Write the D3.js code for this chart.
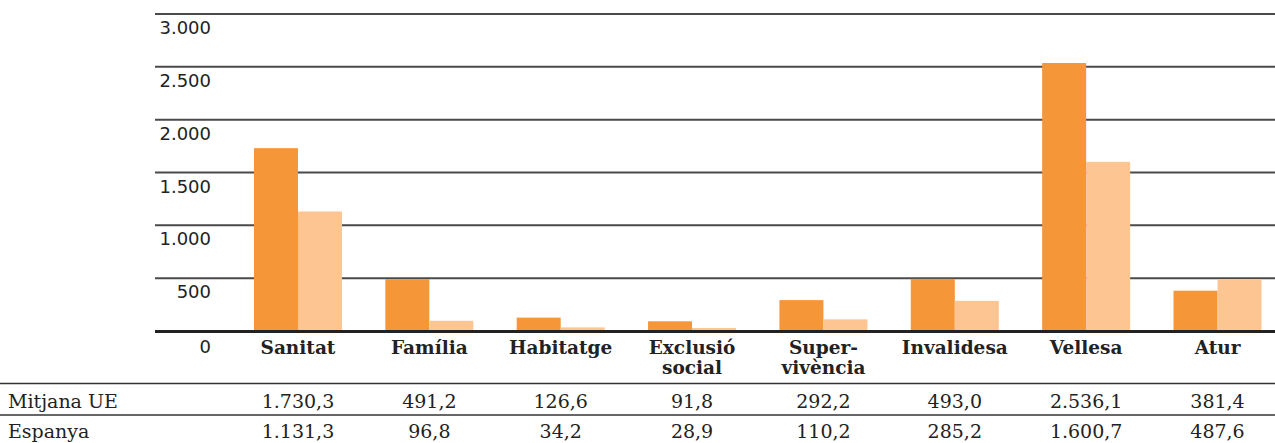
<!DOCTYPE html>
<html><head><meta charset="utf-8">
<script src="https://cdn.jsdelivr.net/npm/d3@7"></script>
<style>
html,body{margin:0;padding:0;background:#fff;}
svg{display:block;}
</style></head>
<body>
<svg id="chart" width="1275" height="443"></svg>
<script>
const categories = ["Sanitat","Família","Habitatge","Exclusió social","Super-vivència","Invalidesa","Vellesa","Atur"];
const categoryLines = [["Sanitat"],["Família"],["Habitatge"],["Exclusió","social"],["Super-","vivència"],["Invalidesa"],["Vellesa"],["Atur"]];
const seriesNames = ["Mitjana UE","Espanya"];
const mitjanaUE = [1730.3, 491.2, 126.6, 91.8, 292.2, 493.0, 2536.1, 381.4];
const espanya = [1131.3, 96.8, 34.2, 28.9, 110.2, 285.2, 1600.7, 487.6];
const yTicks = [0, 500, 1000, 1500, 2000, 2500, 3000];

const colors = ["#F59639", "#FDC592"];
const locale = d3.formatLocale({decimal: ",", thousands: ".", grouping: [3], currency: ["", "€"]});
const fmtVal = locale.format(",.1f");
const fmtTick = locale.format(",d");

const svg = d3.select("#chart");
const W = 1275;
const y = d3.scaleLinear().domain([0, 3000]).range([331, 14]);
const x = d3.scaleBand().domain(categories).range([232.3, 1283.2]).paddingInner(0.33).paddingOuter(0.165);
const xs = d3.scaleBand().domain(seriesNames).range([0, x.bandwidth()]);

const axisFont = "'DejaVu Sans', Verdana, sans-serif";
const serifFont = "'DejaVu Serif', serif";

// gridlines
svg.append("g").selectAll("line").data(yTicks.filter(d => d > 0)).join("line")
  .attr("x1", 155).attr("x2", W)
  .attr("y1", d => y(d)).attr("y2", d => y(d))
  .attr("stroke", "#4a4a4a").attr("stroke-width", 2);

// bars
const series = [mitjanaUE, espanya];
const g = svg.append("g");
series.forEach((vals, si) => {
  g.append("g").selectAll("rect").data(vals).join("rect")
    .attr("x", (d, i) => x(categories[i]) + xs(seriesNames[si]))
    .attr("width", xs.bandwidth())
    .attr("y", d => y(d))
    .attr("height", d => y(0) - y(d))
    .attr("fill", colors[si]);
});

// baseline
svg.append("line").attr("x1", 155).attr("x2", W)
  .attr("y1", y(0) + 0.5).attr("y2", y(0) + 0.5)
  .attr("stroke", "#222").attr("stroke-width", 3);

// tick labels (right-aligned)
svg.append("g").selectAll("text").data(yTicks).join("text")
  .attr("x", 211)
  .attr("y", d => d === 0 ? y(d) + 22 : y(d) + 20)
  .attr("text-anchor", "end")
  .attr("font-family", axisFont).attr("font-size", 18).attr("fill", "#222")
  .text(d => fmtTick(d));

// category labels
const cl = svg.append("g").selectAll("text").data(categories).join("text")
  .attr("x", d => x(d) + x.bandwidth() / 2)
  .attr("y", 354)
  .attr("text-anchor", "middle")
  .attr("font-family", serifFont)
  .attr("font-weight", "bold").attr("font-size", 18.5)
  .attr("fill", "#222");
cl.each(function(d, i) {
  const t = d3.select(this);
  categoryLines[i].forEach((line, li) => {
    t.append("tspan").attr("x", x(d) + x.bandwidth() / 2).attr("dy", li === 0 ? 0 : 20).text(line);
  });
});

// table lines
[383.5, 415].forEach(yy => {
  svg.append("line").attr("x1", 0).attr("x2", W).attr("y1", yy).attr("y2", yy)
    .attr("stroke", "#333").attr("stroke-width", 1.5);
});

// table rows
const rowY = [408, 438];
series.forEach((vals, si) => {
  svg.append("text").attr("x", 8).attr("y", rowY[si])
    .attr("font-family", serifFont)
    .attr("font-size", 19).attr("fill", "#222")
    .text(seriesNames[si]);
  svg.append("g").selectAll("text").data(vals).join("text")
    .attr("x", (d, i) => x(categories[i]) + x.bandwidth() / 2)
    .attr("y", rowY[si])
    .attr("text-anchor", "middle")
    .attr("font-family", serifFont)
    .attr("font-size", 19).attr("fill", "#222")
    .text(d => fmtVal(d));
});
</script>
</body></html>
